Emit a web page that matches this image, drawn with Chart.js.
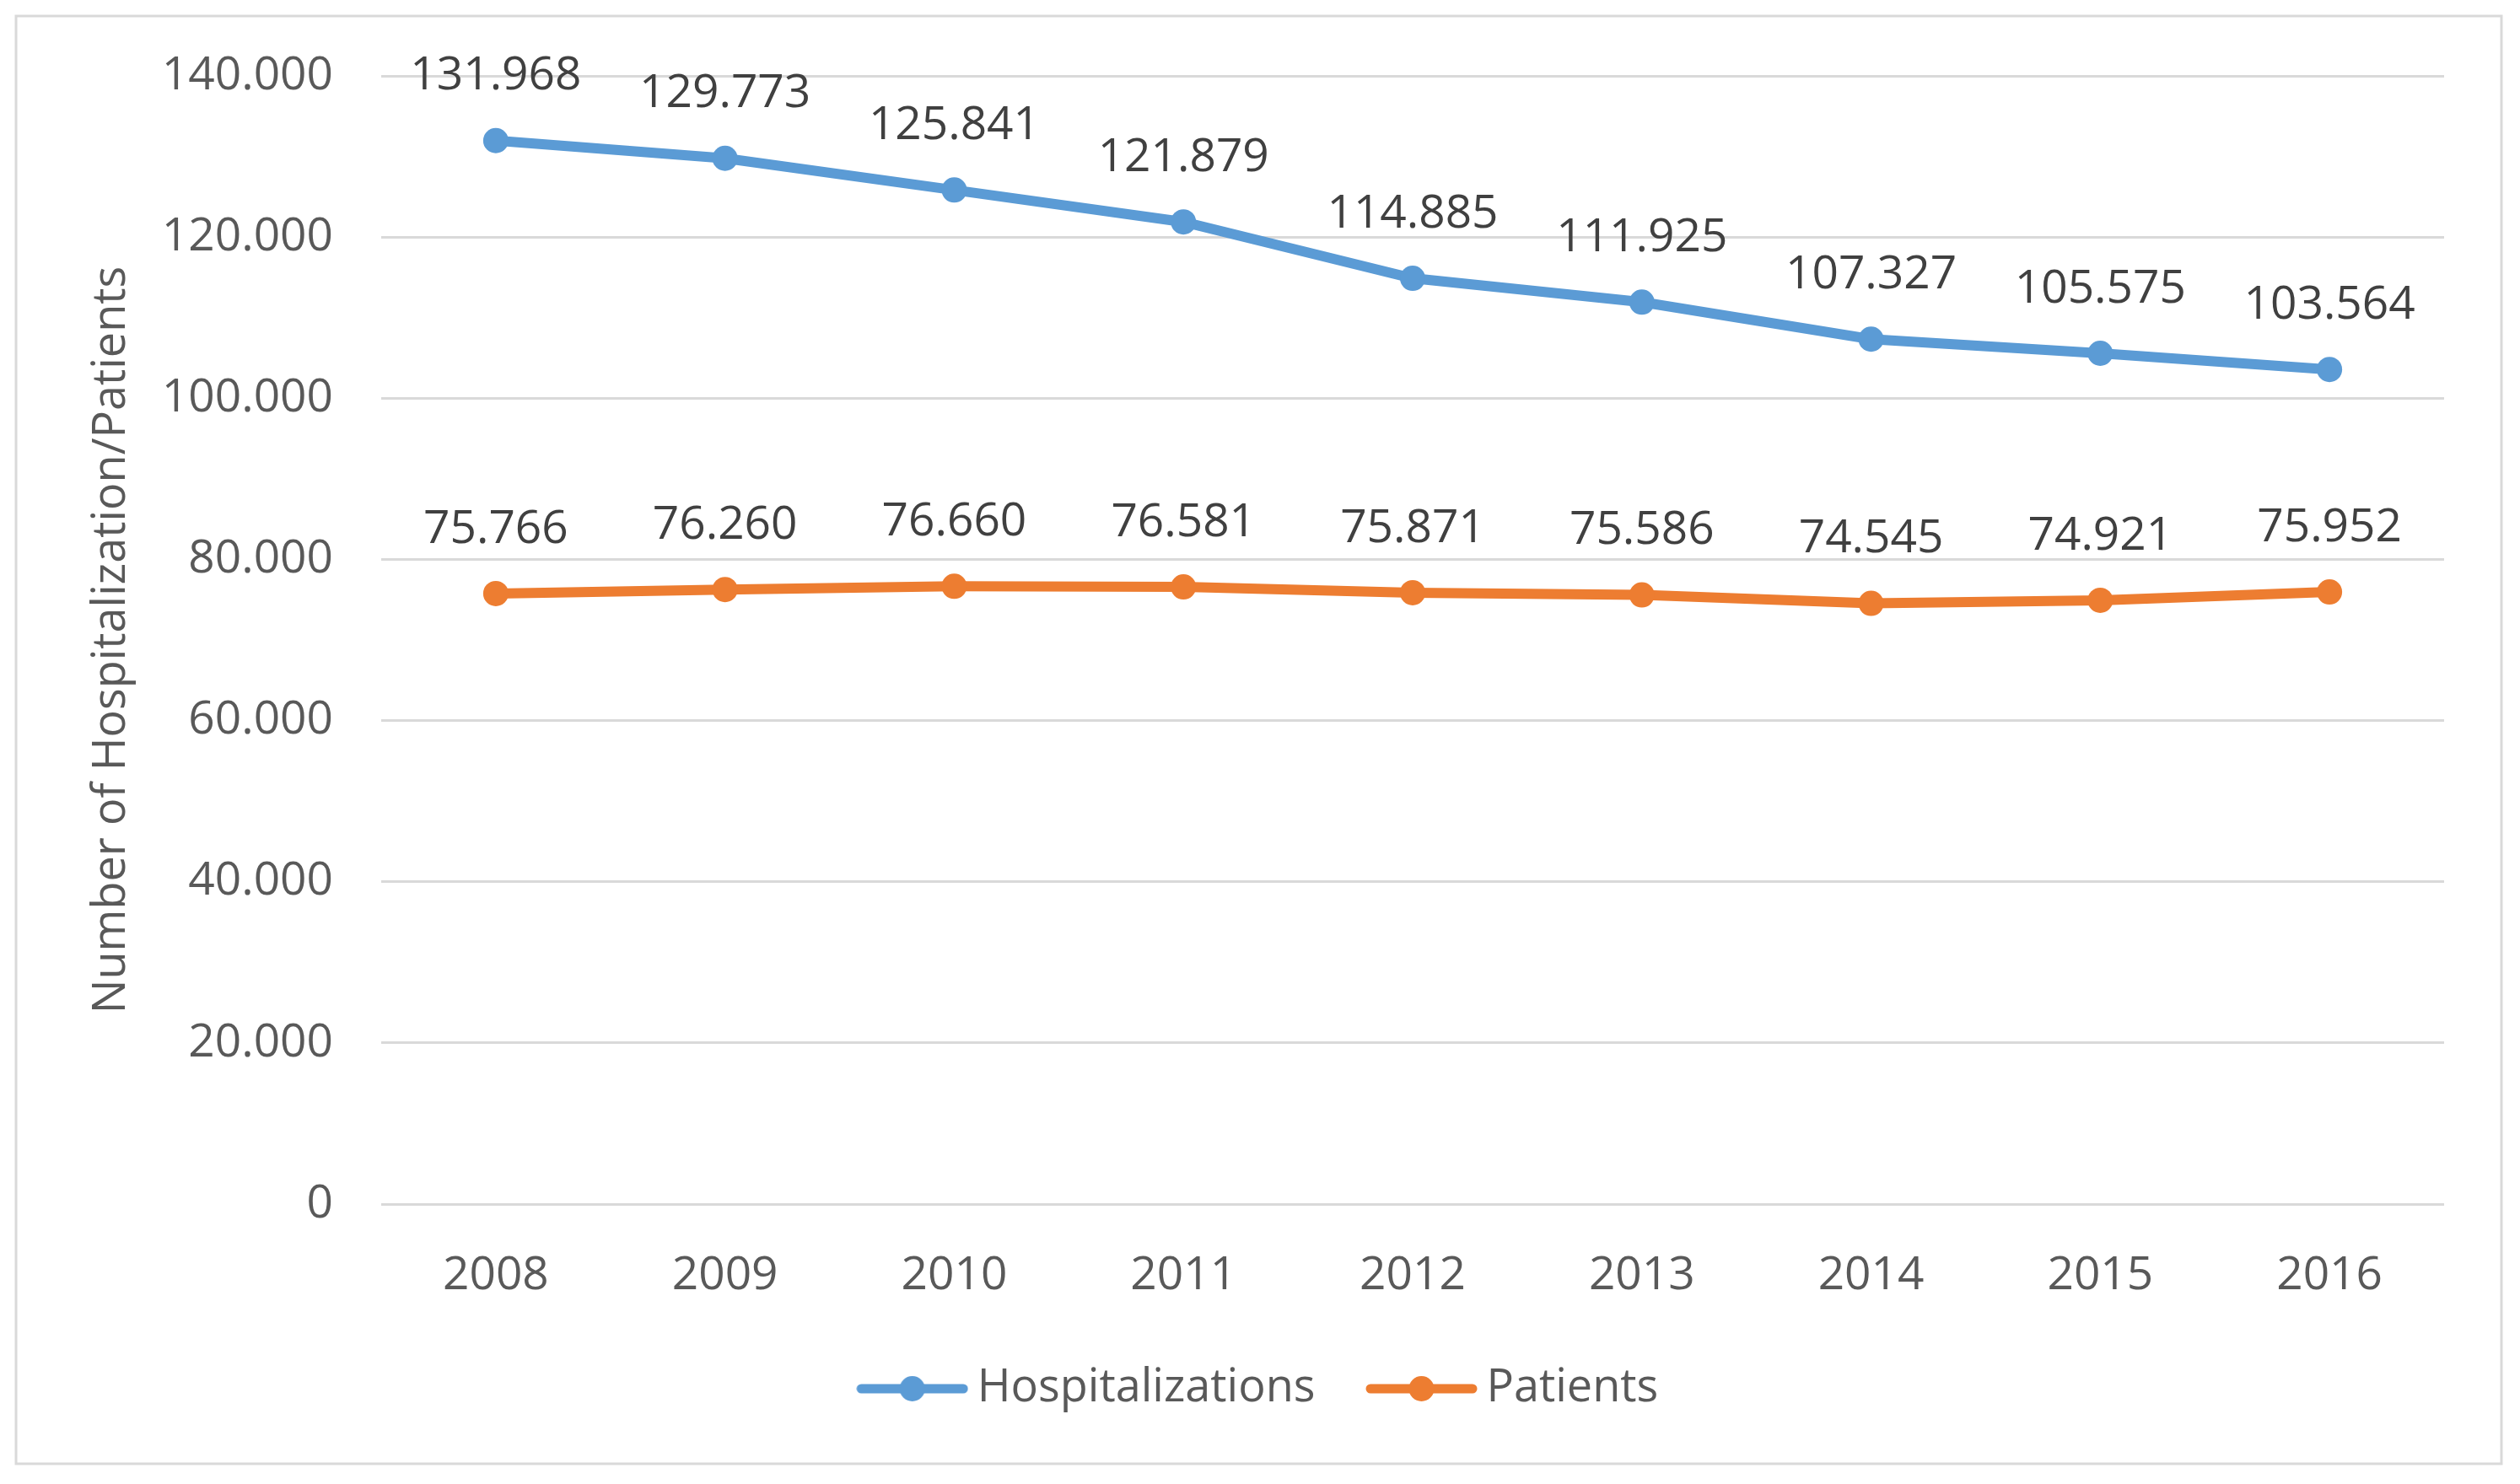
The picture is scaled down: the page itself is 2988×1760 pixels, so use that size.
<!DOCTYPE html>
<html>
<head>
<meta charset="utf-8">
<script src="https://cdn.jsdelivr.net/npm/chart.js@4.4.0/dist/chart.umd.min.js"></script>
<style>
  body { margin: 0; background: #fff; }
  canvas { display: block; }
</style>
</head>
<body>
<canvas id="chart" width="2988" height="1760"></canvas>
<script>
var years = ["2008", "2009", "2010", "2011", "2012", "2013", "2014", "2015", "2016"];
var hospitalizations = [131968, 129773, 125841, 121879, 114885, 111925, 107327, 105575, 103564];
var patients = [75766, 76260, 76660, 76581, 75871, 75586, 74545, 74921, 75952];
var yTicks = [0, 20000, 40000, 60000, 80000, 100000, 120000, 140000];

var blue = "#5B9BD5";
var orange = "#ED7D31";
var font = "'Open Sans', 'DejaVu Sans', sans-serif";

// 131968 -> "131.968"
function fmt(v) {
    return String(v).replace(/\B(?=(\d{3})+(?!\d))/g, ".");
}

// legend marker: a short line with a dot in the middle
function legendMark(color) {
    var c = document.createElement("canvas");
    c.width = 133;
    c.height = 32;
    var ctx = c.getContext("2d");
    ctx.strokeStyle = color;
    ctx.lineWidth = 11;
    ctx.lineCap = "round";
    ctx.beginPath();
    ctx.moveTo(6, 16);
    ctx.lineTo(127, 16);
    ctx.stroke();
    ctx.fillStyle = color;
    ctx.beginPath();
    ctx.arc(66.5, 16, 15, 0, Math.PI * 2);
    ctx.fill();
    return c;
}

var frame = {
    id: "frame",
    beforeDraw: function(chart) {
        var ctx = chart.ctx;
        ctx.save();
        ctx.fillStyle = "#fff";
        ctx.fillRect(0, 0, chart.width, chart.height);
        ctx.strokeStyle = "#d9d9d9";
        ctx.lineWidth = 3;
        ctx.strokeRect(19, 19, 2947, 1717);
        ctx.restore();
    }
};

var valueLabels = {
    id: "valueLabels",
    afterDatasetsDraw: function(chart) {
        var ctx = chart.ctx;
        ctx.save();
        ctx.font = "55px " + font;
        ctx.fillStyle = "#404040";
        ctx.textAlign = "center";
        ctx.textBaseline = "middle";
        chart.data.datasets.forEach(function(ds, i) {
            chart.getDatasetMeta(i).data.forEach(function(pt, j) {
                ctx.fillText(fmt(ds.data[j]), pt.x, pt.y - 76);
            });
        });
        ctx.restore();
    }
};

new Chart(document.getElementById("chart"), {
    type: "line",
    data: {
        labels: years,
        datasets: [{
            label: "Hospitalizations",
            data: hospitalizations,
            borderColor: blue,
            backgroundColor: blue,
            borderWidth: 12,
            pointRadius: 15,
            pointBorderWidth: 0,
            pointStyle: "circle",
            fill: false,
            tension: 0
        }, {
            label: "Patients",
            data: patients,
            borderColor: orange,
            backgroundColor: orange,
            borderWidth: 12,
            pointRadius: 15,
            pointBorderWidth: 0,
            pointStyle: "circle",
            fill: false,
            tension: 0
        }]
    },
    options: {
        responsive: false,
        devicePixelRatio: 1,
        animation: false,
        layout: { padding: { left: 100, right: 90, top: 88, bottom: 76 } },
        scales: {
            x: {
                offset: true,
                grid: { display: false },
                border: { display: false },
                ticks: { color: "#595959", font: { family: font, size: 55 }, padding: 44 },
                afterFit: function(scale) { scale.height = 116; }
            },
            y: {
                min: 0,
                max: 140000,
                afterBuildTicks: function(scale) {
                    scale.ticks = yTicks.map(function(v) { return { value: v }; });
                },
                grid: { color: "#d9d9d9", lineWidth: 3, drawTicks: false },
                border: { display: false },
                ticks: {
                    color: "#595959",
                    font: { family: font, size: 55 },
                    padding: 57,
                    callback: function(v) { return fmt(v); }
                },
                title: {
                    display: true,
                    text: "Number of Hospitalization/Patients",
                    color: "#595959",
                    font: { family: font, size: 54 },
                    padding: { top: 0, bottom: 0 }
                },
                afterFit: function(scale) { scale.width = 352; }
            }
        },
        plugins: {
            tooltip: { enabled: false },
            legend: {
                position: "bottom",
                labels: {
                    color: "#595959",
                    font: { family: font, size: 54 },
                    usePointStyle: true,
                    pointStyleWidth: 100,
                    padding: 76,
                    generateLabels: function(chart) {
                        var items = Chart.defaults.plugins.legend.labels.generateLabels(chart);
                        items.forEach(function(it, i) {
                            it.pointStyle = legendMark(chart.data.datasets[i].borderColor);
                        });
                        return items;
                    }
                }
            }
        }
    },
    plugins: [frame, valueLabels]
});
</script>
</body>
</html>
